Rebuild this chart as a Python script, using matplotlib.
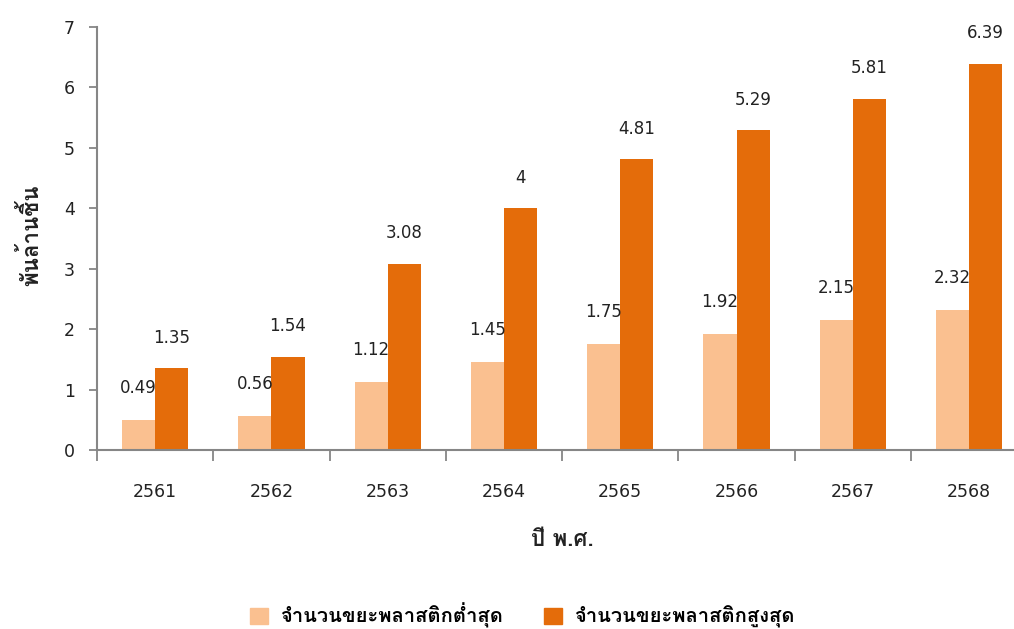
import matplotlib
matplotlib.use("Agg")
import matplotlib.pyplot as plt
import numpy as np
from matplotlib import font_manager
from matplotlib.patches import Patch
from matplotlib.ticker import FixedLocator

years = ["2561", "2562", "2563", "2564", "2565", "2566", "2567", "2568"]
low_values = [0.49, 0.56, 1.12, 1.45, 1.75, 1.92, 2.15, 2.32]
high_values = [1.35, 1.54, 3.08, 4, 4.81, 5.29, 5.81, 6.39]
low_name = "จำนวนขยะพลาสติกต่ำสุด"
high_name = "จำนวนขยะพลาสติกสูงสุด"
y_title = "พันล้านชิ้น"
x_title = "ปี พ.ศ."


def find_thai_font():
    # pick the first installed font that has Thai glyphs
    from fontTools.ttLib import TTFont
    for entry in font_manager.fontManager.ttflist:
        try:
            font = TTFont(entry.fname, fontNumber=0, lazy=True)
            if 0x0E01 in font.getBestCmap():
                return entry.name
        except Exception:
            continue
    return None


thai = find_thai_font()
families = ["DejaVu Sans", thai] if thai else ["DejaVu Sans"]
plt.rcParams["font.family"] = families
thai_fam = [thai, "DejaVu Sans"] if thai else ["DejaVu Sans"]

LIGHT = "#FAC090"
DARK = "#E46C0A"
AXIS = "#868686"
TEXT = "#222222"

fig = plt.figure(figsize=(10.14, 6.29), dpi=100)
ax = fig.add_axes([0.0957, 0.2846, 0.9173, 0.6724])

x = np.arange(len(years))
w = 0.285
ax.bar(x - w / 2, low_values, w, color=LIGHT)
ax.bar(x + w / 2, high_values, w, color=DARK)

for xi, v in zip(x, low_values):
    ax.annotate(f"{v:g}", (xi - w / 2, v), xytext=(0, 23), textcoords="offset points",
                ha="center", va="center", fontsize=12, color=TEXT)
for xi, v in zip(x, high_values):
    ax.annotate(f"{v:g}", (xi + w / 2, v), xytext=(0, 22), textcoords="offset points",
                ha="center", va="center", fontsize=12, color=TEXT)

ax.set_xlim(-0.5, len(years) - 0.5)
ax.set_ylim(0, 7)
ax.set_yticks(range(8))
ax.set_xticks(x)
ax.set_xticklabels(years)
ax.xaxis.set_minor_locator(FixedLocator(np.arange(-0.5, len(years), 1.0)))
ax.tick_params(axis="x", which="major", length=0, pad=24, labelsize=12.5, labelcolor=TEXT)
ax.tick_params(axis="x", which="minor", length=8, width=1.3, color=AXIS, direction="out")
ax.tick_params(axis="y", length=6, width=1.3, color=AXIS, pad=10, labelsize=12.5, labelcolor=TEXT)

for side in ("top", "right"):
    ax.spines[side].set_visible(False)
for side in ("left", "bottom"):
    ax.spines[side].set_color(AXIS)
    ax.spines[side].set_linewidth(1.5)

fig.text(0.03, 0.626, y_title, rotation=90, ha="center", va="center", family=thai_fam,
         fontsize=16, fontweight="bold", color=TEXT)
fig.text(0.555, 0.142, x_title, ha="center", va="center", family=thai_fam,
         fontsize=16, fontweight="bold", color=TEXT)

handles = [Patch(color=LIGHT), Patch(color=DARK)]
fig.legend(handles, [low_name, high_name], loc="center", bbox_to_anchor=(0.515, 0.021),
           ncol=2, frameon=False, handlelength=0.9, handleheight=0.9, columnspacing=2.0,
           handletextpad=0.6,
           prop={"size": 14.5, "weight": "bold", "family": thai_fam})

fig.savefig("out.png", dpi=100)
